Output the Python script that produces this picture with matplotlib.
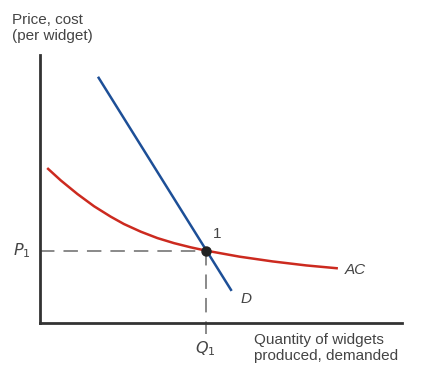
import matplotlib
matplotlib.use("Agg")
import matplotlib.pyplot as plt

plt.rcParams['font.family'] = ['Liberation Sans', 'DejaVu Sans']

# curva de costo medio
ac_q = [0.20, 0.58, 1.04, 1.50, 1.96, 2.33, 2.80, 3.26, 3.72, 4.19, 4.60, 5.54, 6.46, 7.39, 8.27]
ac_p = [5.84, 5.37, 4.86, 4.40, 4.01, 3.73, 3.44, 3.20, 3.01, 2.85, 2.73, 2.50, 2.32, 2.17, 2.06]

# demanda
d_q = [1.61, 5.32]
d_p = [9.28, 1.21]

# equilibrio
q1 = 4.60
p1 = 2.73

gray = '#444444'

fig = plt.figure(figsize=(4.22, 3.76), dpi=100)
ax = fig.add_axes([40/422, 53/376, 362/422, 268/376])
ax.set_xlim(0, 10.05)
ax.set_ylim(0, 10.1)

for s in ['top', 'right']:
    ax.spines[s].set_visible(False)
for s in ['left', 'bottom']:
    ax.spines[s].set_linewidth(2)
    ax.spines[s].set_color('#333333')
ax.set_xticks([])
ax.set_yticks([])

# lineas punteadas
ax.plot([0, q1], [p1, p1], color='#808080', lw=1.3, dashes=(8, 5))
ax.plot([q1, q1], [p1, -0.4], color='#808080', lw=1.3, dashes=(8, 5), clip_on=False)

ax.plot(ac_q, ac_p, color='#cc2a1f', lw=1.8, solid_capstyle='butt', solid_joinstyle='round')
ax.plot(d_q, d_p, color='#1d4f97', lw=1.8, solid_capstyle='butt')
ax.plot([q1], [p1], 'o', color='#222222', ms=6.5, zorder=5)

ax.text(q1 + 0.2, p1 + 0.35, '1', fontsize=11, color=gray, va='bottom')
ax.text(d_q[1] + 0.25, d_p[1] - 0.3, 'D', fontsize=11, color=gray, style='italic', va='center')
ax.text(ac_q[-1] + 0.2, ac_p[-1] - 0.05, 'AC', fontsize=11, color=gray, style='italic', va='center')

ax.text(-0.25, p1, '$P_1$', fontsize=11.5, color=gray, ha='right', va='center', clip_on=False)
ax.text(q1, -0.6, '$Q_1$', fontsize=11.5, color=gray, ha='center', va='top', clip_on=False)

fig.text(12/422, 1 - 13/376, 'Price, cost\n(per widget)', fontsize=11, color=gray,
         ha='left', va='top', linespacing=1.15)
fig.text(254/422, 1 - 333/376, 'Quantity of widgets\nproduced, demanded', fontsize=11,
         color=gray, ha='left', va='top', linespacing=1.15)

fig.savefig('out.png', dpi=100)
